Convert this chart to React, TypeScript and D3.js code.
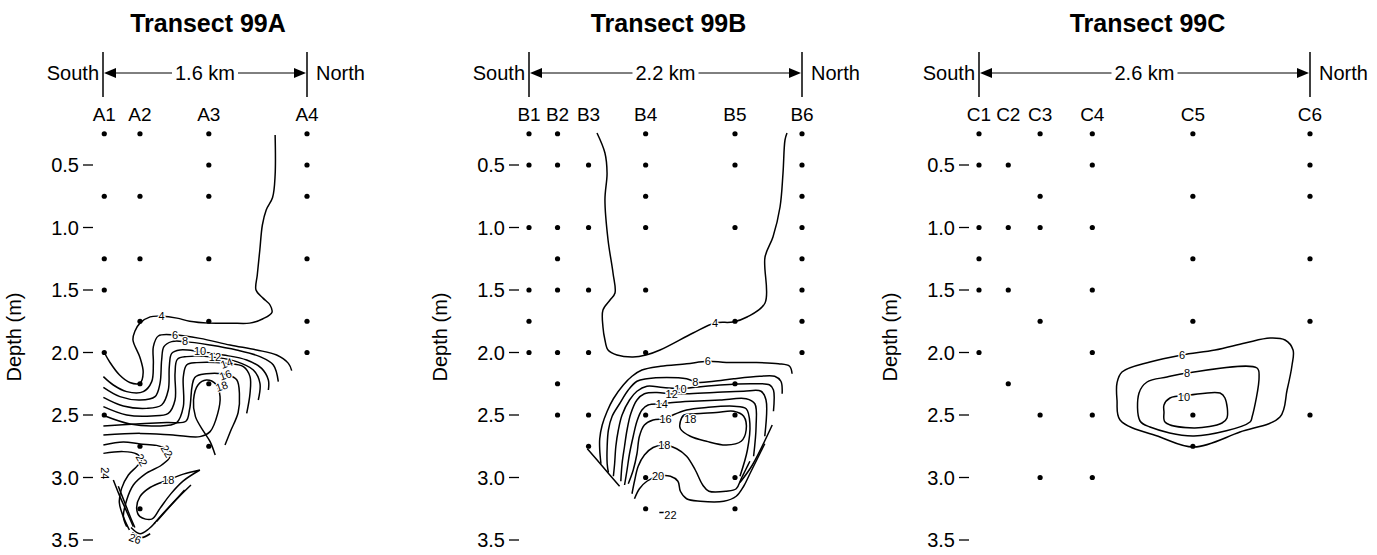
import React from 'react';
import * as d3 from 'd3';

type Pt = [number, number];
interface Contour { closed?: boolean; pts: Pt[] }
interface Label { text: string; at: Pt; angle?: number }

const depthTicks = [0.5, 1.0, 1.5, 2.0, 2.5, 3.0, 3.5];
const titles = ['Transect 99A', 'Transect 99B', 'Transect 99C'];
const lengthsKm = [1.6, 2.2, 2.6];

// ---- Transect 99A ----
const stationsA = ['A1', 'A2', 'A3', 'A4'];
const stationKmA = [0.01, 0.29, 0.83, 1.6];
const samplesA: [number, number][] = [
  [0, 0.25], [0, 0.75], [0, 1.25], [0, 1.5], [0, 2.0], [0, 2.5],
  [1, 0.25], [1, 0.75], [1, 1.25], [1, 1.75], [1, 2.25], [1, 2.75], [1, 3.25],
  [2, 0.25], [2, 0.5], [2, 0.75], [2, 1.25], [2, 1.75], [2, 2.25], [2, 2.75],
  [3, 0.25], [3, 0.5], [3, 0.75], [3, 1.25], [3, 1.75], [3, 2.0],
];
const contoursA: Contour[] = [
  { pts: [[0.01, 2.0], [0.055, 2.08], [0.13, 2.18], [0.21, 2.24], [0.29, 2.245], [0.315, 2.16], [0.29, 2.04], [0.235, 1.9], [0.25, 1.83], [0.29, 1.765], [0.37, 1.715], [0.46, 1.71], [0.58, 1.725], [0.68, 1.75], [0.83, 1.765], [1.0, 1.765], [1.15, 1.765], [1.255, 1.73], [1.325, 1.68], [1.31, 1.62], [1.255, 1.565], [1.2, 1.5], [1.21, 1.38], [1.23, 1.18], [1.25, 0.98], [1.28, 0.86], [1.33, 0.76], [1.35, 0.58], [1.35, 0.26]] },
  { pts: [[0.003, 2.193], [0.081, 2.26], [0.186, 2.313], [0.316, 2.313], [0.382, 2.233], [0.395, 2.087], [0.395, 1.953], [0.434, 1.868], [0.565, 1.86], [0.761, 1.887], [0.996, 1.94], [1.205, 1.98], [1.362, 2.02], [1.454, 2.087], [1.48, 2.145]] },
  { pts: [[0.003, 2.279], [0.133, 2.353], [0.29, 2.38], [0.408, 2.353], [0.447, 2.247], [0.46, 2.06], [0.478, 1.953], [0.539, 1.913], [0.643, 1.913], [0.839, 1.94], [1.048, 1.98], [1.231, 2.033], [1.336, 2.1], [1.375, 2.233]] },
  { pts: [[0.003, 2.359], [0.159, 2.428], [0.342, 2.447], [0.46, 2.42], [0.512, 2.3], [0.52, 2.113], [0.539, 2.007], [0.604, 1.98], [0.761, 1.993], [0.944, 2.02], [1.127, 2.06], [1.244, 2.127], [1.297, 2.22], [1.297, 2.3]] },
  { pts: [[0.003, 2.433], [0.186, 2.5], [0.382, 2.508], [0.512, 2.487], [0.565, 2.38], [0.565, 2.167], [0.583, 2.055], [0.656, 2.033], [0.878, 2.039], [1.048, 2.073], [1.179, 2.14], [1.231, 2.247], [1.218, 2.38]] },
  { pts: [[0.016, 2.508], [0.212, 2.572], [0.421, 2.588], [0.578, 2.561], [0.63, 2.433], [0.63, 2.193], [0.656, 2.1], [0.735, 2.081], [0.97, 2.087], [1.101, 2.113], [1.153, 2.193], [1.153, 2.327], [1.127, 2.487]] },
  { pts: [[0.003, 2.588], [0.26, 2.572], [0.5, 2.56], [0.65, 2.55], [0.68, 2.45], [0.72, 2.2], [0.81, 2.17], [0.98, 2.18], [1.05, 2.22], [1.07, 2.33], [1.06, 2.48], [1.0, 2.63], [0.957, 2.74]] },
  { pts: [[0.003, 2.66], [0.29, 2.647], [0.55, 2.66], [0.76, 2.673], [0.84, 2.633], [0.9, 2.487], [0.918, 2.353], [0.885, 2.253], [0.81, 2.22], [0.745, 2.26], [0.71, 2.38], [0.725, 2.513], [0.79, 2.633], [0.84, 2.713], [0.88, 2.82]] },
  { pts: [[0.003, 2.74], [0.159, 2.716], [0.29, 2.732], [0.42, 2.743], [0.5, 2.775], [0.525, 2.833], [0.46, 2.9], [0.33, 2.973], [0.238, 3.06], [0.186, 3.18], [0.16, 3.313], [0.186, 3.393]] },
  { pts: [[0.003, 2.807], [0.159, 2.793], [0.264, 2.812], [0.303, 2.86], [0.264, 2.913], [0.199, 2.98], [0.146, 3.087], [0.128, 3.2], [0.159, 3.313], [0.207, 3.42]] },
  { pts: [[0.76, 2.94], [0.63, 2.973], [0.51, 3.02], [0.369, 3.08], [0.29, 3.153], [0.264, 3.247], [0.29, 3.313], [0.382, 3.333], [0.447, 3.247], [0.53, 3.133], [0.63, 3.027], [0.76, 2.94]] },
  { pts: [[0.081, 3.02], [0.133, 3.153], [0.186, 3.273], [0.238, 3.393]] },
  { pts: [[0.12, 3.07], [0.17, 3.2], [0.22, 3.33], [0.25, 3.4]] },
  { pts: [[0.69, 3.06], [0.6, 3.15], [0.5, 3.26], [0.42, 3.353]] },
  { pts: [[0.64, 3.1], [0.55, 3.2], [0.46, 3.3], [0.4, 3.37]] },
  { pts: [[0.22, 3.4], [0.29, 3.45], [0.36, 3.41], [0.41, 3.36]] },
  { pts: [[0.23, 3.44], [0.3, 3.48], [0.37, 3.45]] },
];
const labelsA: Label[] = [
  { text: '4', at: [0.46, 1.71] },
  { text: '6', at: [0.565, 1.865] },
  { text: '8', at: [0.643, 1.91] },
  { text: '10', at: [0.761, 1.99] },
  { text: '12', at: [0.878, 2.04] },
  { text: '14', at: [0.97, 2.087], angle: -20 },
  { text: '16', at: [0.96, 2.18], angle: -20 },
  { text: '18', at: [0.93, 2.27], angle: -20 },
  { text: '22', at: [0.5, 2.79], angle: 60 },
  { text: '22', at: [0.303, 2.86], angle: 60 },
  { text: '18', at: [0.512, 3.02] },
  { text: '24', at: [0.016, 2.967], angle: 90 },
  { text: '26', at: [0.251, 3.49], angle: 20 },
];

// ---- Transect 99B ----
const stationsB = ['B1', 'B2', 'B3', 'B4', 'B5', 'B6'];
const stationKmB = [0.0, 0.23, 0.48, 0.94, 1.66, 2.2];
const samplesB: [number, number][] = [
  [0, 0.25], [0, 0.5], [0, 1.0], [0, 1.5], [0, 1.75], [0, 2.0],
  [1, 0.25], [1, 0.5], [1, 1.0], [1, 1.25], [1, 1.5], [1, 2.0], [1, 2.25], [1, 2.5],
  [2, 0.5], [2, 1.0], [2, 1.5], [2, 2.0], [2, 2.5], [2, 2.75],
  [3, 0.25], [3, 0.5], [3, 0.75], [3, 1.0], [3, 1.5], [3, 2.0], [3, 2.5], [3, 3.0], [3, 3.25],
  [4, 0.25], [4, 0.5], [4, 1.0], [4, 1.75], [4, 2.25], [4, 2.5], [4, 3.0], [4, 3.25],
  [5, 0.25], [5, 0.5], [5, 0.75], [5, 1.0], [5, 1.25], [5, 1.5], [5, 1.75], [5, 2.0],
];
const contoursB: Contour[] = [
  { pts: [[0.548, 0.244], [0.612, 0.404], [0.629, 0.564], [0.612, 0.78], [0.637, 1.1], [0.677, 1.364], [0.693, 1.524], [0.653, 1.58], [0.596, 1.66], [0.596, 1.796], [0.612, 1.9], [0.637, 1.98], [0.709, 2.02], [0.838, 2.036], [0.943, 2.02], [1.056, 1.98], [1.322, 1.844], [1.499, 1.764], [1.644, 1.756], [1.757, 1.716], [1.902, 1.604], [1.902, 1.236], [1.966, 1.076], [2.023, 0.836], [2.047, 0.564], [2.063, 0.3], [2.079, 0.244]] },
  { pts: [[2.12, 2.17], [2.1, 2.11], [2.01, 2.09], [1.81, 2.08], [1.59, 2.08], [1.44, 2.07], [1.27, 2.09], [1.06, 2.11], [0.91, 2.14], [0.83, 2.19], [0.76, 2.26], [0.68, 2.37], [0.63, 2.47], [0.59, 2.58], [0.57, 2.69], [0.57, 2.78], [0.58, 2.89]] },
  { pts: [[2.04, 2.33], [2.03, 2.23], [1.98, 2.19], [1.86, 2.19], [1.65, 2.21], [1.49, 2.23], [1.36, 2.24], [1.27, 2.21], [1.11, 2.2], [0.95, 2.21], [0.87, 2.23], [0.8, 2.3], [0.73, 2.41], [0.67, 2.51], [0.64, 2.62], [0.63, 2.75], [0.63, 2.89], [0.64, 2.96]] },
  { pts: [[1.97, 2.47], [1.97, 2.3], [1.94, 2.26], [1.81, 2.25], [1.54, 2.26], [1.32, 2.28], [1.24, 2.29], [1.08, 2.28], [0.95, 2.27], [0.87, 2.31], [0.81, 2.38], [0.75, 2.5], [0.72, 2.62], [0.7, 2.75], [0.69, 2.89], [0.68, 2.99]] },
  { pts: [[1.9, 2.67], [1.91, 2.38], [1.87, 2.31], [1.73, 2.31], [1.49, 2.32], [1.27, 2.33], [1.15, 2.33], [1.03, 2.32], [0.93, 2.33], [0.87, 2.38], [0.82, 2.49], [0.79, 2.62], [0.77, 2.75], [0.75, 2.89], [0.74, 3.03]] },
  { pts: [[1.81, 2.83], [1.83, 2.59], [1.82, 2.41], [1.75, 2.37], [1.54, 2.38], [1.32, 2.39], [1.16, 2.4], [1.07, 2.41], [0.96, 2.42], [0.91, 2.46], [0.87, 2.55], [0.84, 2.67], [0.81, 2.81], [0.79, 2.94], [0.77, 3.06]] },
  { pts: [[1.7, 2.99], [1.76, 2.78], [1.78, 2.57], [1.75, 2.45], [1.65, 2.43], [1.43, 2.44], [1.27, 2.46], [1.16, 2.5], [1.1, 2.53], [1.0, 2.54], [0.93, 2.58], [0.89, 2.67], [0.87, 2.81], [0.84, 2.94], [0.8, 3.05]] },
  { closed: true, pts: [[1.22, 2.55], [1.25, 2.5], [1.34, 2.49], [1.51, 2.48], [1.65, 2.47], [1.73, 2.51], [1.75, 2.62], [1.71, 2.71], [1.59, 2.74], [1.43, 2.71], [1.3, 2.67], [1.22, 2.61]] },
  { pts: [[0.83, 3.13], [0.85, 3.03], [0.88, 2.91], [0.93, 2.82], [1.0, 2.76], [1.09, 2.74], [1.19, 2.77], [1.27, 2.83], [1.34, 2.94], [1.4, 3.06], [1.45, 3.11], [1.59, 3.11], [1.67, 3.09], [1.71, 3.01], [1.75, 2.93], [1.78, 2.87]] },
  { pts: [[0.85, 3.17], [0.89, 3.09], [0.95, 3.03], [1.04, 2.99], [1.14, 2.99], [1.2, 3.03], [1.22, 3.11], [1.27, 3.17], [1.38, 3.19], [1.57, 3.19], [1.67, 3.15], [1.73, 3.07], [1.78, 2.97], [1.85, 2.83], [1.9, 2.73]] },
  { pts: [[0.47, 2.77], [0.6, 2.92], [0.73, 3.07]] },
  { pts: [[1.96, 2.58], [1.8, 2.9], [1.7, 3.04]] },
  { pts: [[1.05, 3.28], [1.09, 3.28]] },
];
const labelsB: Label[] = [
  { text: '4', at: [1.5, 1.765] },
  { text: '6', at: [1.44, 2.07] },
  { text: '8', at: [1.34, 2.24] },
  { text: '10', at: [1.22, 2.29] },
  { text: '12', at: [1.15, 2.33] },
  { text: '14', at: [1.07, 2.41] },
  { text: '16', at: [1.1, 2.53] },
  { text: '18', at: [1.3, 2.53] },
  { text: '18', at: [1.09, 2.74] },
  { text: '20', at: [1.04, 2.99] },
  { text: '22', at: [1.14, 3.3] },
];

// ---- Transect 99C ----
const stationsC = ['C1', 'C2', 'C3', 'C4', 'C5', 'C6'];
const stationKmC = [0.0, 0.23, 0.48, 0.89, 1.68, 2.6];
const samplesC: [number, number][] = [
  [0, 0.25], [0, 0.5], [0, 1.0], [0, 1.25], [0, 1.5], [0, 2.0],
  [1, 0.5], [1, 1.0], [1, 1.5], [1, 2.25],
  [2, 0.25], [2, 0.75], [2, 1.0], [2, 1.75], [2, 2.5], [2, 3.0],
  [3, 0.25], [3, 0.5], [3, 1.0], [3, 1.5], [3, 2.0], [3, 2.5], [3, 3.0],
  [4, 0.25], [4, 0.75], [4, 1.25], [4, 1.75], [4, 2.5], [4, 2.75],
  [5, 0.25], [5, 0.5], [5, 0.75], [5, 1.25], [5, 1.75], [5, 2.5],
];
const contoursC: Contour[] = [
  { closed: true, pts: [[1.084, 2.244], [1.123, 2.156], [1.343, 2.076], [1.595, 2.02], [1.854, 1.98], [2.09, 1.924], [2.286, 1.884], [2.404, 1.9], [2.467, 1.98], [2.459, 2.1], [2.42, 2.3], [2.364, 2.516], [2.05, 2.636], [1.689, 2.756], [1.422, 2.676], [1.108, 2.54], [1.084, 2.38]] },
  { closed: true, pts: [[1.634, 2.164], [2.184, 2.124], [2.2, 2.196], [2.145, 2.516], [2.129, 2.556], [1.689, 2.668], [1.343, 2.596], [1.265, 2.548], [1.257, 2.324], [1.32, 2.236], [1.477, 2.196]] },
  { closed: true, pts: [[1.453, 2.42], [1.5, 2.364], [1.657, 2.34], [1.893, 2.324], [1.932, 2.364], [1.948, 2.524], [1.909, 2.564], [1.689, 2.604], [1.461, 2.556], [1.453, 2.476]] },
];
const labelsC: Label[] = [
  { text: '6', at: [1.595, 2.02] },
  { text: '8', at: [1.634, 2.164] },
  { text: '10', at: [1.61, 2.36] },
];

const panelX: [number, number][] = [[103, 307], [529, 802], [979, 1310]];
const FONT = "'Liberation Sans', Arial, Helvetica, sans-serif";

const y = d3.scaleLinear().domain([0, 3.5]).range([102.5, 540]);

interface PanelProps {
  idx: number;
  stations: string[];
  stationKm: number[];
  samples: [number, number][];
  contours: Contour[];
  labels: Label[];
}

const Panel: React.FC<PanelProps> = ({ idx, stations, stationKm, samples, contours, labels }) => {
  const [x0, x1] = panelX[idx];
  const x = d3.scaleLinear().domain([0, lengthsKm[idx]]).range([x0, x1]);
  const open = d3.line<Pt>().x((d) => x(d[0])).y((d) => y(d[1])).curve(d3.curveCatmullRom.alpha(0.5));
  const closed = d3.line<Pt>().x((d) => x(d[0])).y((d) => y(d[1])).curve(d3.curveCatmullRomClosed.alpha(0.5));
  const mid = (x0 + x1) / 2;
  const ay = 73;
  const kmText = `${lengthsKm[idx].toFixed(1)} km`;

  return (
    <g fontFamily={FONT}>
      <text x={mid + 3} y={32} textAnchor="middle" fontSize={25} fontWeight="bold">{titles[idx]}</text>

      {/* distance bar */}
      <line x1={x0} x2={x0} y1={52} y2={97} stroke="#000" strokeWidth={1.5} />
      <line x1={x1} x2={x1} y1={52} y2={97} stroke="#000" strokeWidth={1.5} />
      <line x1={x0 + 10} x2={x1 - 10} y1={ay} y2={ay} stroke="#000" strokeWidth={1} />
      <path d={`M${x0 + 1},${ay}L${x0 + 13},${ay - 5}L${x0 + 13},${ay + 5}Z`} fill="#000" />
      <path d={`M${x1 - 1},${ay}L${x1 - 13},${ay - 5}L${x1 - 13},${ay + 5}Z`} fill="#000" />
      <rect x={mid - 33} y={ay - 10} width={66} height={20} fill="#fff" />
      <text x={mid} y={ay + 7} textAnchor="middle" fontSize={20}>{kmText}</text>
      <text x={x0 - 4} y={ay + 7} textAnchor="end" fontSize={20}>South</text>
      <text x={x1 + 9} y={ay + 7} fontSize={20}>North</text>

      {/* station labels */}
      {stations.map((s, i) => (
        <text key={s} x={x(stationKm[i])} y={121} textAnchor="middle" fontSize={19}>{s}</text>
      ))}

      {/* depth axis */}
      {depthTicks.map((t) => (
        <g key={t}>
          <text x={x0 - 24} y={y(t) + 7} textAnchor="end" fontSize={20}>{t.toFixed(1)}</text>
          <line x1={x0 - 20} x2={x0 - 10} y1={y(t)} y2={y(t)} stroke="#000" strokeWidth={1.3} />
        </g>
      ))}
      <text transform={`translate(${x0 - 82},337) rotate(-90)`} textAnchor="middle" fontSize={20}>Depth (m)</text>

      {/* contours */}
      {contours.map((c, i) => (
        <path key={i} d={(c.closed ? closed : open)(c.pts) || ''} fill="none" stroke="#000" strokeWidth={1.5} />
      ))}
      {labels.map((l, i) => (
        <text
          key={i}
          transform={`translate(${x(l.at[0])},${y(l.at[1])}) rotate(${l.angle || 0})`}
          textAnchor="middle"
          dy="0.35em"
          fontSize={11}
          stroke="#fff"
          strokeWidth={2.5}
          paintOrder="stroke"
          fill="#000"
        >
          {l.text}
        </text>
      ))}

      {/* sample points */}
      {samples.map(([s, d], i) => (
        <circle key={i} cx={x(stationKm[s])} cy={y(d)} r={2.6} fill="#000" />
      ))}
    </g>
  );
};

export default function App() {
  return (
    <svg width={1377} height={555} style={{ position: 'absolute', left: 0, top: 0, background: '#fff' }}>
      <Panel idx={0} stations={stationsA} stationKm={stationKmA} samples={samplesA} contours={contoursA} labels={labelsA} />
      <Panel idx={1} stations={stationsB} stationKm={stationKmB} samples={samplesB} contours={contoursB} labels={labelsB} />
      <Panel idx={2} stations={stationsC} stationKm={stationKmC} samples={samplesC} contours={contoursC} labels={labelsC} />
    </svg>
  );
}
